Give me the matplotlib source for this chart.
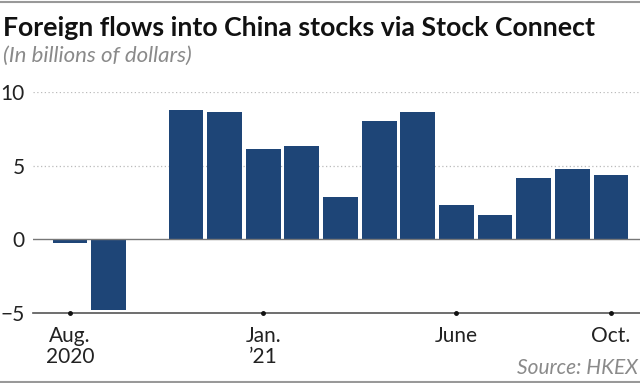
import matplotlib
matplotlib.use("Agg")
import matplotlib.pyplot as plt
import numpy as np

months = ["Aug 2020", "Sep 2020", "Oct 2020", "Nov 2020", "Dec 2020", "Jan 2021",
          "Feb 2021", "Mar 2021", "Apr 2021", "May 2021", "Jun 2021", "Jul 2021",
          "Aug 2021", "Sep 2021", "Oct 2021"]
flows = [-0.27, -4.78, np.nan, 8.76, 8.62, 6.15, 6.32, 2.84, 8.04, 8.65,
         2.36, 1.66, 4.16, 4.75, 4.36]
tick_months = ["Aug 2020", "Jan 2021", "Jun 2021", "Oct 2021"]
tick_labels = ["Aug.\n2020", "Jan.\n\u201921", "June", "Oct."]
yticks = [-5, 0, 5, 10]

plt.rcParams['font.family'] = ['Lato', 'DejaVu Sans']

fig = plt.figure(figsize=(6.4, 3.83), dpi=100)
ax = fig.add_axes([33/640, 1 - 313.3/383, (640 - 33)/640, (313.3 - 91.7)/383])

x = np.arange(len(months))
vals = np.array(flows, dtype=float)
ax.bar(x, np.nan_to_num(vals), width=0.9, color="#1e4577", zorder=3,
       edgecolor="none")

ax.set_xlim(-0.957, 14.75)
ax.set_ylim(-5, 10)

for y in [5, 10]:
    ax.axhline(y, color="#bbbbbb", lw=0.9, ls=(0, (1, 2)), zorder=1)
ax.axhline(0, color="#777777", lw=1.0, zorder=4)
ax.axhline(-5, color="#555555", lw=1.2, zorder=4, clip_on=False)

for s in ax.spines.values():
    s.set_visible(False)

ax.set_yticks(yticks)
ax.set_yticklabels(["\u22125", "0", "5", "10"], fontsize=15, color="#222222")
ax.tick_params(axis="y", length=0, pad=6)

tpos = [months.index(m) for m in tick_months]
ax.set_xticks(tpos)
ax.set_xticklabels(tick_labels, fontsize=15, color="#222222", linespacing=1.05)
ax.tick_params(axis="x", length=0, pad=9)
ax.plot(tpos, [-5] * len(tpos), "o", color="#111111", ms=2.5, zorder=5,
        clip_on=False)

fig.text(0.004, 1 - 36/383, "Foreign flows into China stocks via Stock Connect",
         fontsize=19.2, fontweight="bold", color="#111111", ha="left", va="baseline")
fig.text(0.004, 1 - 62/383, "(In billions of dollars)", fontsize=16,
         fontstyle="italic", color="#8a8a8a", ha="left", va="baseline")
fig.text(0.997, 1 - 374/383, "Source: HKEX", fontsize=15, fontstyle="italic",
         color="#8a8a8a", ha="right", va="baseline")

fig.add_artist(plt.Line2D([0, 1], [1 - 1.5/383, 1 - 1.5/383], color="#999999", lw=1.5))
fig.add_artist(plt.Line2D([0, 1], [1 - 381.5/383, 1 - 381.5/383], color="#999999", lw=1.5))

fig.savefig("out.png", dpi=100)
